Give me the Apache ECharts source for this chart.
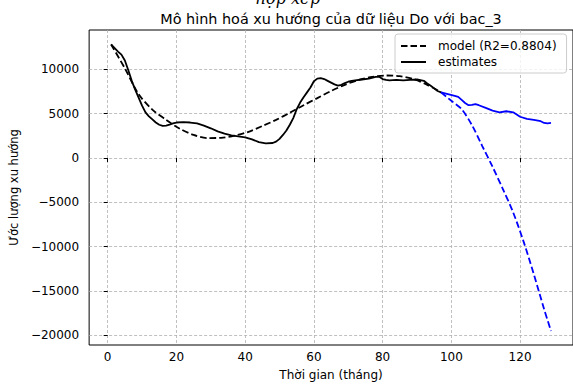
<!DOCTYPE html>
<html>
<head>
<meta charset="utf-8">
<script src="https://cdn.jsdelivr.net/npm/echarts@6/dist/echarts.min.js"></script>
<style>
  html, body { margin: 0; padding: 0; background: #fff; }
  #chart { width: 573px; height: 386px; }
</style>
</head>
<body>
<div id="chart"></div>
<script>
// training part (black)
const trainMonths = [1, 3, 4, 5, 6, 7, 8, 9, 10, 11, 12, 13, 14, 15, 16, 17, 18, 19, 20,
    22, 24, 26, 28, 30, 32, 34, 36, 38, 40, 42, 44, 46, 48, 49, 50, 51, 52, 53, 54, 55,
    56, 57, 58, 59, 60, 61, 62, 63, 64, 65, 66, 67, 68, 69, 70, 71, 72, 74, 76, 78, 79,
    80, 81, 82, 84, 86, 88, 90, 92, 93, 94, 95, 96, 97];
const trainEstimates = [12800, 12000, 11650, 11000, 9900, 8700, 7700, 6800, 5900, 5150,
    4700, 4350, 4000, 3750, 3620, 3650, 3750, 3900, 4000,
    4040, 4000, 3900, 3650, 3350, 3000, 2750, 2560, 2450, 2330, 2100, 1800, 1660, 1690,
    1850, 2160, 2600, 3100, 3750, 4500, 5500, 6250, 6850, 7400, 7950, 8650,
    8950, 9000, 8900, 8700, 8500, 8300, 8150, 8250, 8450, 8600, 8700, 8750,
    8850, 8950, 9150, 9150, 8900, 8800, 8750, 8800, 8750, 8800, 8850, 8700,
    8400, 8150, 7850, 7550, 7400];
const trainModelMonths = [1, 5, 9, 13, 17, 21, 25, 29, 33, 37, 41, 45, 49, 53, 57, 61,
    65, 69, 73, 77, 81, 85, 89, 93, 97];
const trainModel = [12800, 10100, 7200, 5450, 4300, 3300, 2600, 2250, 2280, 2520, 2950,
    3600, 4300, 5100, 5950, 6750, 7550, 8250, 8800, 9150, 9300, 9230, 8900, 8250, 7400];

// forecast part (blue)
const testMonths = [97, 99, 101, 102, 103, 104, 105, 106, 107, 108, 110, 112, 114, 116,
    118, 119, 120, 122, 124, 126, 127, 128, 129];
const testEstimates = [7400, 7200, 7000, 6900, 6550, 6200, 5950, 6000, 6080, 5950, 5650,
    5350, 5150, 5270, 5150, 4900, 4650, 4420, 4300, 4150, 3950, 3900, 3950];
const testModelMonths = [97, 100, 103, 106, 109, 112, 115, 118, 121, 124, 127, 129];
const testModel = [7400, 6450, 5500, 3700, 1350, -1000, -3500, -6150, -9400, -13100,
    -17050, -19500];

const xTicks = [0, 20, 40, 60, 80, 100, 120];
const yTicks = [-20000, -15000, -10000, -5000, 0, 5000, 10000];

const FONT = 'DejaVu Sans';
const MODEL_NAME = 'model (R2=0.8804)';

const pairs = (xs, ys) => xs.map((x, i) => [x, ys[i]]);
const minusFmt = v => (v < 0 ? '\u2212' + Math.abs(v) : String(v));

const chart = echarts.init(document.getElementById('chart'), null, { renderer: 'svg' });

const gridLine = { color: '#b0b0b0', width: 0.8, type: [3, 2] };

chart.setOption({
    animation: false,
    backgroundColor: '#fff',
    graphic: [
        {
            type: 'text', x: 288, y: 6,
            style: {
                text: 'hợp xếp', align: 'center', verticalAlign: 'bottom',
                font: 'italic 16px "DejaVu Serif"', fill: '#000'
            }
        },
        {
            type: 'text', x: 331, y: 19,
            style: {
                text: 'Mô hình hoá xu hướng của dữ liệu Do với bac_3',
                align: 'center', verticalAlign: 'middle',
                font: '14.4px "DejaVu Sans"', fill: '#000'
            }
        }
    ],
    legend: {
        data: [MODEL_NAME, 'estimates'],
        orient: 'vertical',
        left: 395, top: 34,
        itemWidth: 25, itemHeight: 12, itemGap: 4,
        padding: [6, 10, 5, 5],
        borderColor: '#cccccc', borderWidth: 1, borderRadius: 3,
        backgroundColor: 'rgba(255,255,255,0.8)',
        // hide the marker dot, keep only the line sample
        itemStyle: { opacity: 0 },
        textStyle: { fontSize: 12, fontFamily: FONT, color: '#000', padding: [0, 0, 0, 7] }
    },
    grid: {
        left: 88, top: 30, width: 488, height: 317,
        show: true, borderColor: '#000', borderWidth: 1
    },
    xAxis: {
        type: 'value', min: -5.4, max: 135.4,
        name: 'Thời gian (tháng)', nameLocation: 'middle', nameGap: 24,
        nameTextStyle: { fontSize: 12, fontFamily: FONT, color: '#000' },
        axisLine: { show: false },
        axisTick: { show: true, length: 4, customValues: xTicks, lineStyle: { color: '#000' } },
        axisLabel: { customValues: xTicks, margin: 6, fontSize: 12, fontFamily: FONT, color: '#000' },
        splitLine: { show: true, lineStyle: gridLine }
    },
    yAxis: {
        type: 'value', min: -21080, max: 14430,
        name: 'Ước lượng xu hướng', nameLocation: 'middle', nameGap: 64,
        nameTextStyle: { fontSize: 11.5, fontFamily: FONT, color: '#000' },
        axisLine: { show: false },
        axisTick: { show: true, length: 4, customValues: yTicks, lineStyle: { color: '#000' } },
        axisLabel: { customValues: yTicks, margin: 10, fontSize: 12, fontFamily: FONT, color: '#000', formatter: minusFmt },
        splitLine: { show: true, lineStyle: gridLine }
    },
    series: [
        {
            name: 'estimates', type: 'line', symbol: 'none',
            data: pairs(trainMonths, trainEstimates),
            itemStyle: { color: '#000' },
            lineStyle: { color: '#000', width: 1.8 }
        },
        {
            name: MODEL_NAME, type: 'line', symbol: 'none', smooth: 0.3,
            data: pairs(trainModelMonths, trainModel),
            itemStyle: { color: '#000' },
            lineStyle: { color: '#000', width: 1.8, type: [6.5, 3] }
        },
        {
            name: 'estimates (forecast)', type: 'line', symbol: 'none',
            data: pairs(testMonths, testEstimates),
            itemStyle: { color: '#0000ff' },
            lineStyle: { color: '#0000ff', width: 1.8 }
        },
        {
            name: 'model (forecast)', type: 'line', symbol: 'none', smooth: 0.3,
            data: pairs(testModelMonths, testModel),
            itemStyle: { color: '#0000ff' },
            lineStyle: { color: '#0000ff', width: 1.8, type: [6.5, 3] }
        }
    ]
});
</script>
</body>
</html>
